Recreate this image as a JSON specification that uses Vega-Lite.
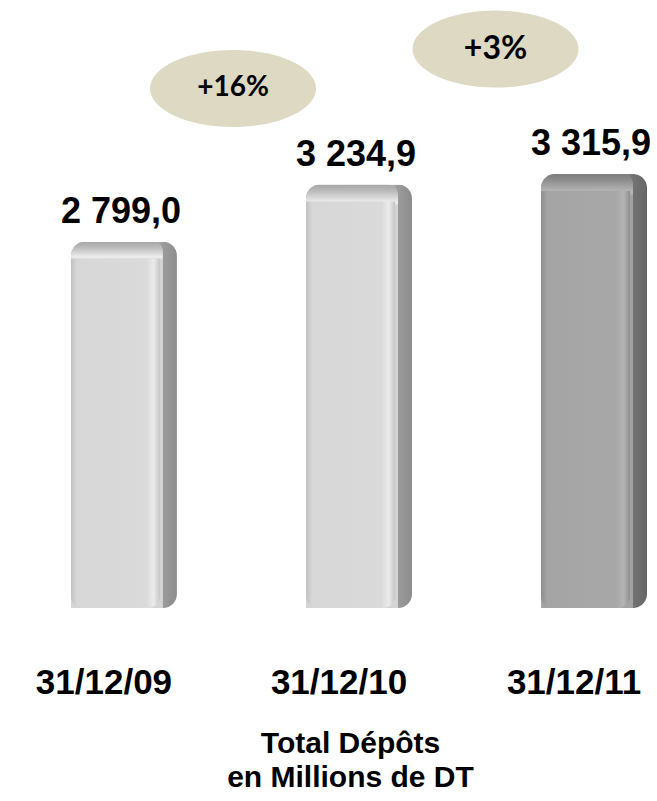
{
  "$schema": "https://vega.github.io/schema/vega-lite/v6.json",
  "width": 636,
  "height": 608,
  "autosize": {"type": "none"},
  "padding": {"left": 21, "right": 0, "top": 0, "bottom": 193},
  "background": "white",
  "config": {"view": {"stroke": null}},
  "datasets": {
    "bars": [
      {"date": "31/12/09", "v": 2799.0, "label": "2 799,0", "shade": "light"},
      {"date": "31/12/10", "v": 3234.9, "label": "3 234,9", "shade": "light"},
      {"date": "31/12/11", "v": 3315.9, "label": "3 315,9", "shade": "dark"}
    ],
    "growth": [
      {"pos": 0.549, "v": 3969, "t": "+16%"},
      {"pos": 1.666, "v": 4270, "t": "+3%"}
    ]
  },
  "layer": [
    {
      "data": {"name": "bars"},
      "encoding": {
        "x": {
          "field": "date", "type": "nominal", "sort": null,
          "scale": {"paddingInner": 0.4, "paddingOuter": 0.053},
          "axis": {
            "title": ["Total Dépôts", "en  Millions de DT"],
            "labelFont": "Liberation Sans", "labelFontWeight": "bold", "labelFontSize": 35, "labelColor": "black",
            "labelAngle": 0, "labelBaseline": "alphabetic", "labelPadding": 85,
            "ticks": false, "tickSize": 0, "domain": false, "grid": false,
            "titleFont": "Liberation Sans", "titleFontWeight": "bold", "titleFontSize": 30, "titleColor": "black",
            "titleLineHeight": 34, "titleY": 144, "titleX": 329, "titleBaseline": "alphabetic"
          }
        },
        "y": {"field": "v", "type": "quantitative", "scale": {"domain": [0, 4645], "nice": false, "zero": true}, "axis": null}
      },
      "layer": [
        {
          "mark": {"type": "bar", "width": 106, "xOffset": 20, "y2Offset": -14, "cornerRadius": 14},
          "encoding": {
            "color": {
              "condition": {"test": "datum.shade == 'dark'", "value": {"gradient": "linear", "x1": 0, "y1": 0, "x2": 1, "y2": 0,
                "stops": [{"offset": 0, "color": "#8e8e8e"}, {"offset": 0.8, "color": "#8a8a8a"}, {"offset": 0.86, "color": "#747474"}, {"offset": 1, "color": "#666666"}]}},
              "value": {"gradient": "linear", "x1": 0, "y1": 0, "x2": 1, "y2": 0,
                "stops": [{"offset": 0, "color": "#bdbdbd"}, {"offset": 0.8, "color": "#b8b8b8"}, {"offset": 0.86, "color": "#9c9c9c"}, {"offset": 1, "color": "#8c8c8c"}]}
            }
          }
        },
        {
          "mark": {"type": "bar", "width": 92, "xOffset": 13, "y2Offset": -14, "cornerRadiusTopLeft": 14, "cornerRadiusTopRight": 10},
          "encoding": {
            "color": {
              "condition": {"test": "datum.shade == 'dark'", "value": {"gradient": "linear", "x1": 0, "y1": 0, "x2": 0, "y2": 1,
                "stops": [{"offset": 0, "color": "#7c7c7c"}, {"offset": 0.015, "color": "#8e8e8e"}, {"offset": 0.032, "color": "#aaaaaa"}, {"offset": 0.042, "color": "#b6b6b6"}, {"offset": 0.05, "color": "#a2a2a2"}, {"offset": 1, "color": "#a2a2a2"}]}},
              "value": {"gradient": "linear", "x1": 0, "y1": 0, "x2": 0, "y2": 1,
                "stops": [{"offset": 0, "color": "#a6a6a6"}, {"offset": 0.015, "color": "#bababa"}, {"offset": 0.032, "color": "#dadada"}, {"offset": 0.042, "color": "#eeeeee"}, {"offset": 0.05, "color": "#d4d4d4"}, {"offset": 1, "color": "#d4d4d4"}]}
            }
          }
        },
        {
          "mark": {"type": "bar", "width": 89, "xOffset": 11.5, "yOffset": 17, "cornerRadiusTopLeft": 6, "cornerRadiusTopRight": 6, "cornerRadiusBottomLeft": 12, "cornerRadiusBottomRight": 12},
          "encoding": {
            "color": {
              "condition": {"test": "datum.shade == 'dark'", "value": {"gradient": "linear", "x1": 0, "y1": 0, "x2": 1, "y2": 0,
                "stops": [{"offset": 0, "color": "#8f8f8f"}, {"offset": 0.07, "color": "#a4a4a4"}, {"offset": 0.85, "color": "#a8a8a8"}, {"offset": 0.93, "color": "#b4b4b4"}, {"offset": 1, "color": "#8e8e8e"}]}},
              "value": {"gradient": "linear", "x1": 0, "y1": 0, "x2": 1, "y2": 0,
                "stops": [{"offset": 0, "color": "#c2c2c2"}, {"offset": 0.07, "color": "#d7d7d7"}, {"offset": 0.85, "color": "#dadada"}, {"offset": 0.93, "color": "#ebebeb"}, {"offset": 1, "color": "#c6c6c6"}]}
            }
          }
        },
        {
          "mark": {"type": "text", "font": "Liberation Sans", "fontWeight": "bold", "fontSize": 36, "baseline": "alphabetic", "dy": -19, "xOffset": 17, "color": "black"},
          "encoding": {"text": {"field": "label"}}
        }
      ]
    },
    {
      "data": {"name": "growth"},
      "encoding": {
        "x": {"field": "pos", "type": "quantitative", "scale": {"domain": [-0.353, 2.353], "nice": false, "zero": false}, "axis": null},
        "y": {"field": "v", "type": "quantitative"}
      },
      "layer": [
        {
          "mark": {"type": "point", "filled": true, "opacity": 1, "color": "#ddd9c3", "strokeWidth": 0,
            "shape": "M -1 0 C -1 -0.2563 -0.5523 -0.464 0 -0.464 C 0.5523 -0.464 1 -0.2563 1 0 C 1 0.2563 0.5523 0.464 0 0.464 C -0.5523 0.464 -1 0.2563 -1 0 Z",
            "size": 27556}
        },
        {
          "mark": {"type": "text", "font": "Lato", "fontWeight": "bold", "color": "black", "baseline": "middle", "align": "center"},
          "encoding": {
            "text": {"field": "t"},
            "size": {"condition": {"test": "datum.t == '+3%'", "value": 32}, "value": 28}
          }
        }
      ]
    }
  ],
  "resolve": {"scale": {"x": "independent"}}
}
